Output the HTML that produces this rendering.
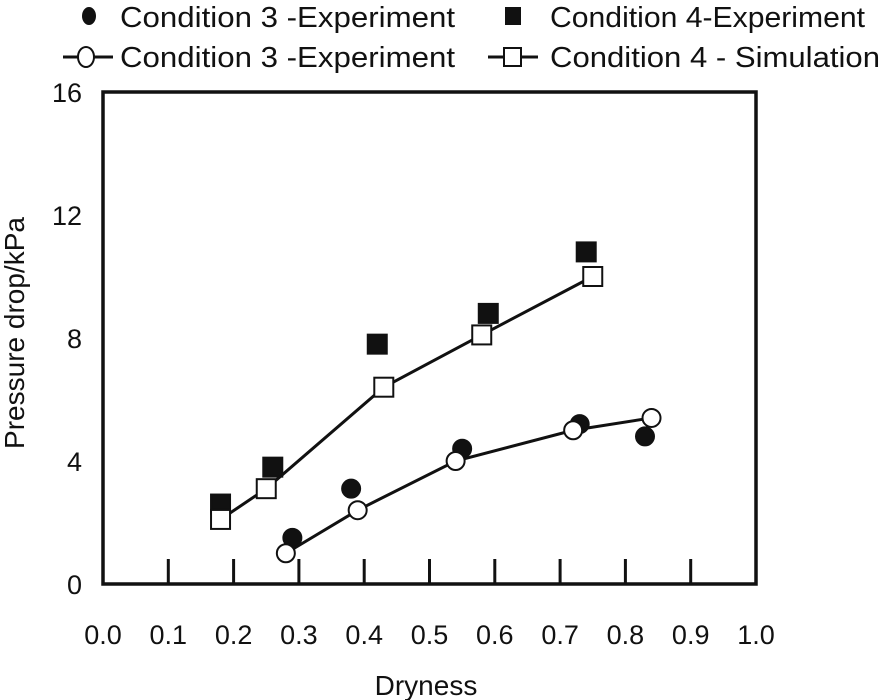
<!DOCTYPE html>
<html><head><meta charset="utf-8"><style>body{margin:0;background:#fff}svg{display:block;font-family:"Liberation Sans",Arial,sans-serif}</style></head>
<body>
<svg id="c" width="886" height="700"></svg>
<script>
const xTicks=[0,0.1,0.2,0.3,0.4,0.5,0.6,0.7,0.8,0.9,1.0];
const yTicks=[0,4,8,12,16];
const c3ExpX=[0.29,0.38,0.55,0.73,0.83];
const c3ExpY=[1.5,3.1,4.4,5.2,4.8];
const c3SimX=[0.28,0.39,0.54,0.72,0.84];
const c3SimY=[1.0,2.4,4.0,5.0,5.4];
const c4ExpX=[0.18,0.26,0.42,0.59,0.74];
const c4ExpY=[2.6,3.8,7.8,8.8,10.8];
const c4SimX=[0.18,0.25,0.43,0.58,0.75];
const c4SimY=[2.1,3.1,6.4,8.1,10.0];
const L=103,R=756,T=92,B=584;
const sx=v=>L+v*(R-L), sy=v=>B-v/16*(B-T);
const svg=document.getElementById('c'),NS='http://www.w3.org/2000/svg';
function mk(t,a,p){const e=document.createElementNS(NS,t);for(const k in a)e.setAttribute(k,a[k]);(p||svg).appendChild(e);return e;}
const frame=mk('rect',{x:L,y:T,width:R-L,height:B-T,fill:'none',stroke:'#111','stroke-width':3.5});


xTicks.forEach(v=>{
  if(v>0&&v<1){const t=mk('line',{x1:sx(v),x2:sx(v),y1:B,y2:B-25,stroke:'#111','stroke-width':3});
  
  }
  const l=mk('text',{x:sx(v),y:644,'text-anchor':'middle','font-size':27,fill:'#111'});l.textContent=v.toFixed(1);
  
  
});
yTicks.forEach(v=>{
  const l=mk('text',{x:82,y:sy(v)+10,'text-anchor':'end','font-size':27,fill:'#111'});l.textContent=v;
  
  
});
const xt=mk('text',{x:426,y:695,'text-anchor':'middle','font-size':28,fill:'#111'});xt.textContent='Dryness';


const yt=mk('text',{x:0,y:0,'text-anchor':'middle','font-size':28,fill:'#111',transform:'translate(24,333) rotate(-90)'});yt.textContent='Pressure drop/kPa';


function line(xs,ys,name){const p=mk('polyline',{points:xs.map((x,i)=>sx(x)+','+sy(ys[i])).join(' '),fill:'none',stroke:'#111','stroke-width':3});

}
function circ(x,y,filled,name){const e=mk('circle',{cx:x,cy:y,r:9,fill:filled?'#111':'#fff',stroke:'#111','stroke-width':2});

}
function sq(x,y,filled,name){const e=mk('rect',{x:x-9.5,y:y-9.5,width:19,height:19,fill:filled?'#111':'#fff',stroke:'#111','stroke-width':2});

}
line(c4SimX,c4SimY,'condition-4-simulation-line');
line(c3SimX,c3SimY,'condition-3-simulation-line');
c4ExpX.forEach((x,i)=>sq(sx(x),sy(c4ExpY[i]),true,'condition-4-experiment-point'));
c3ExpX.forEach((x,i)=>circ(sx(x),sy(c3ExpY[i]),true,'condition-3-experiment-point'));
c4SimX.forEach((x,i)=>sq(sx(x),sy(c4SimY[i]),false,'condition-4-simulation-point'));
c3SimX.forEach((x,i)=>circ(sx(x),sy(c3SimY[i]),false,'condition-3-simulation-point'));
function ltext(x,y,s,w){const t=mk('text',{x:x,y:y,'font-size':29,fill:'#111',textLength:w,lengthAdjust:'spacingAndGlyphs'});t.textContent=s;

}
mk('ellipse',{cx:89,cy:16,rx:7,ry:9,fill:'#111'});
ltext(120,27,'Condition 3 -Experiment',335);
mk('rect',{x:505,y:7,width:16,height:18,fill:'#111'});
ltext(550,27,'Condition 4-Experiment',315);
mk('line',{x1:63,x2:113,y1:57,y2:57,stroke:'#111','stroke-width':3});
mk('ellipse',{cx:86,cy:57,rx:8,ry:10,fill:'#fff',stroke:'#111','stroke-width':2});
ltext(120,67,'Condition 3 -Experiment',335);
mk('line',{x1:488,x2:538,y1:57,y2:57,stroke:'#111','stroke-width':3});
mk('rect',{x:504,y:48,width:17,height:18,fill:'#fff',stroke:'#111','stroke-width':2});
ltext(550,67,'Condition 4 - Simulation',330);
</script>
</body></html>
